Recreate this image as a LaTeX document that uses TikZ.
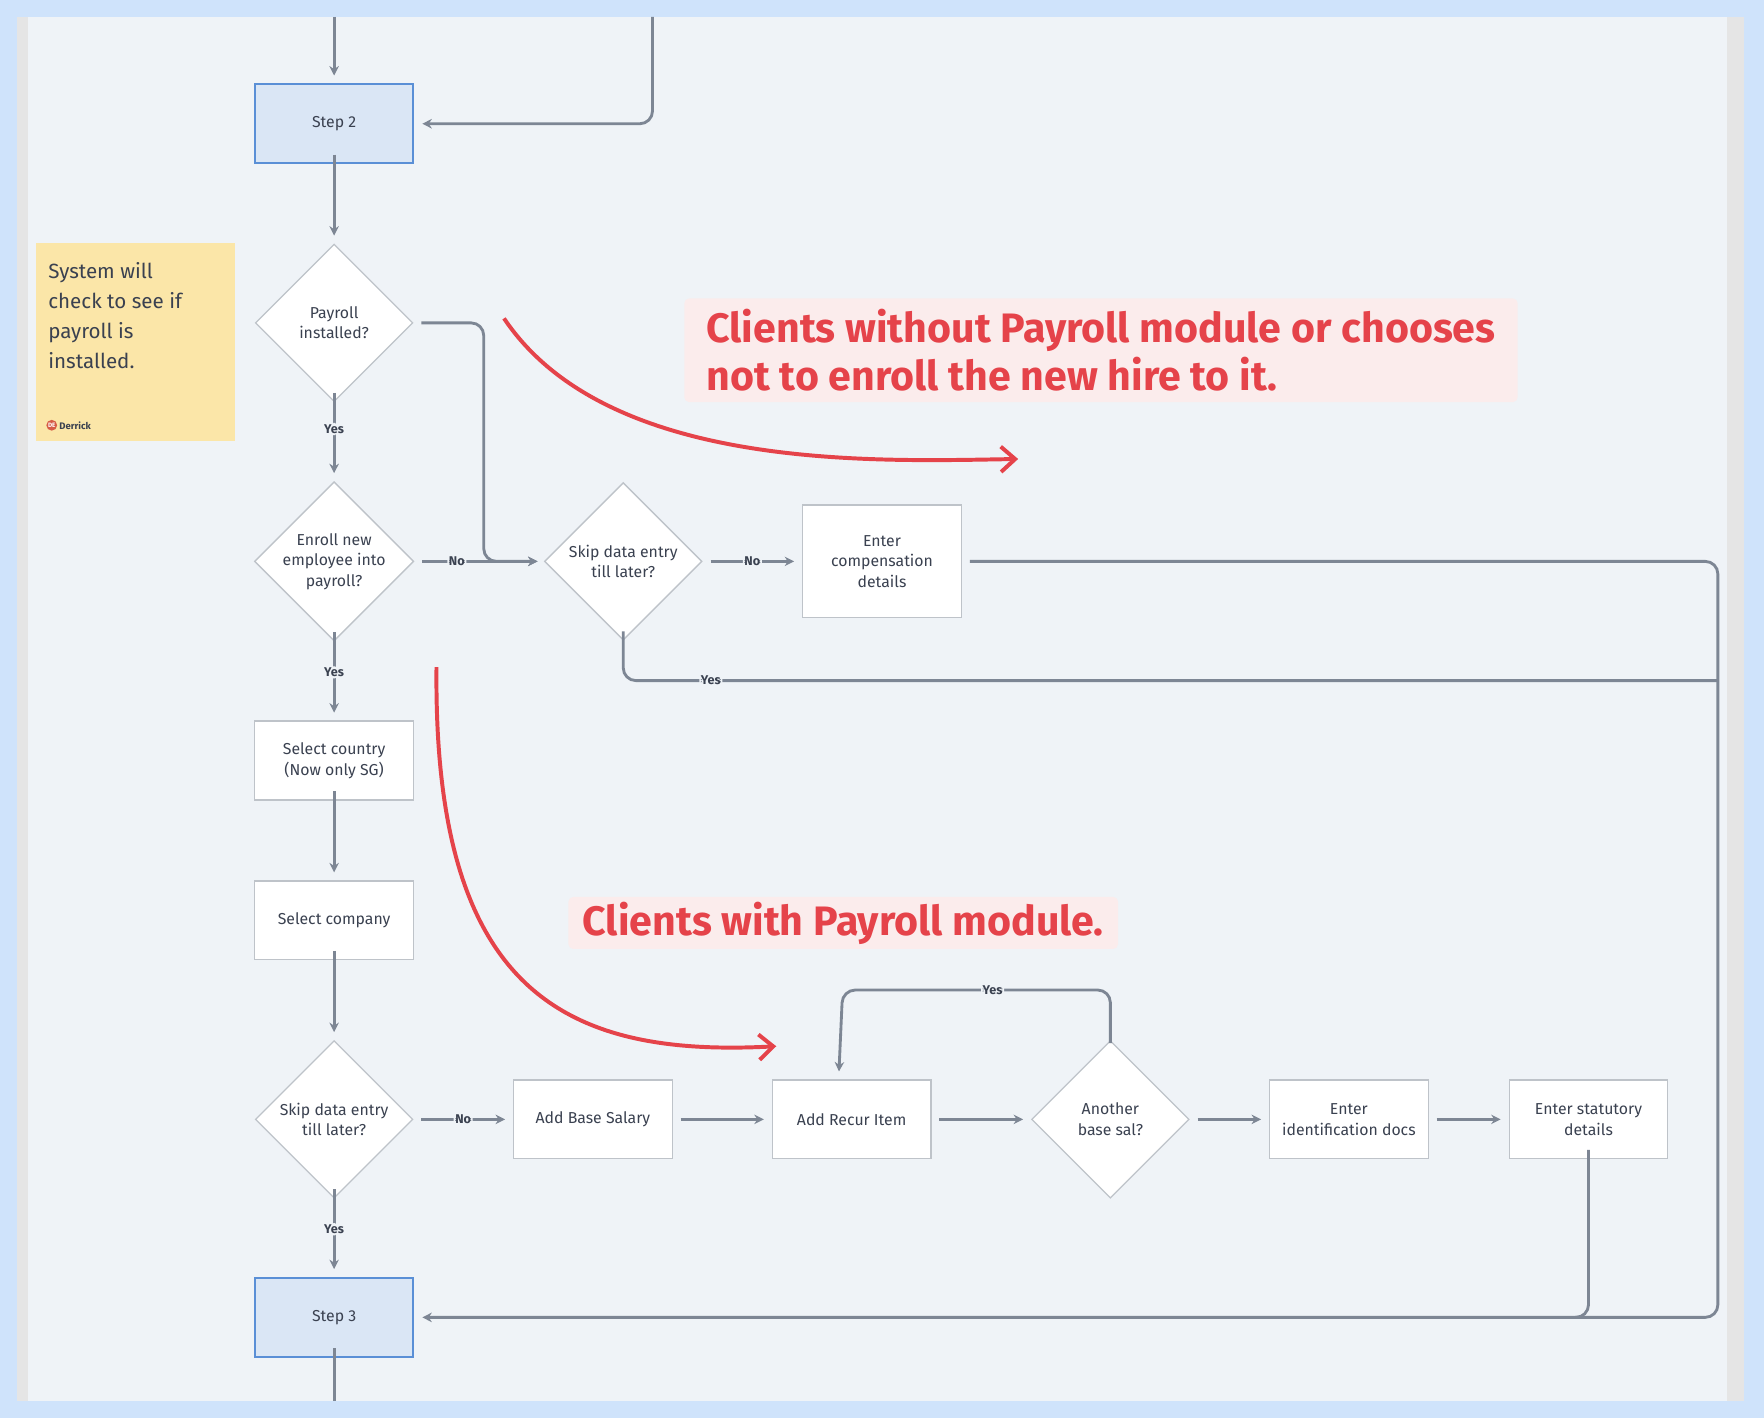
\documentclass[tikz,border=0pt]{standalone}
\usepackage{fontspec}
\setmainfont{Fira Sans}
\usetikzlibrary{shapes.geometric, positioning, arrows.meta}
\definecolor{edgegray}{HTML}{7D8694}
\definecolor{txtgray}{HTML}{3A4150}
\definecolor{stepfill}{HTML}{DAE6F5}
\definecolor{stepline}{HTML}{5A8FD6}
\definecolor{callred}{HTML}{E5434A}
\definecolor{callfill}{HTML}{FBECEC}
\definecolor{notefill}{HTML}{FBE6A8}
\definecolor{bgpanel}{HTML}{EFF3F7}
\definecolor{bgouter}{HTML}{CFE3FB}
\begin{document}
\begin{tikzpicture}[x=0.025cm, y=-0.025cm,
  box/.style={draw=edgegray!50, fill=white, line width=0.8pt, minimum width=141*0.025cm, minimum height=70*0.025cm, align=center, text=txtgray, font=\fontsize{10}{13}\selectfont, inner sep=1pt},
  stepbox/.style={box, fill=stepfill, draw=stepline, line width=1.2pt},
  dec/.style={diamond, draw=edgegray!50, fill=white, line width=0.8pt, minimum width=140*0.025cm, minimum height=140*0.025cm, inner sep=0pt, align=center, text=txtgray, font=\fontsize{10}{13}\selectfont},
  flow/.style={draw=edgegray, line width=1.8pt, rounded corners=8pt, -{Stealth[length=6pt,width=6pt]}},
  lbl/.style={fill=bgpanel, text=txtgray, font=\fontsize{8}{9}\selectfont\bfseries, inner sep=1pt},
  call/.style={fill=callfill, text=callred, font=\fontsize{26}{30}\selectfont\bfseries, align=left, inner xsep=14pt, inner ysep=7pt, rounded corners=3pt},
  curve/.style={draw=callred, line width=2.5pt, -{Straight Barb[length=9pt,width=16pt]}}
]
% background
\useasboundingbox (0,0) rectangle (1568,1260);
\fill[bgouter] (0,0) rectangle (1568,1260);
\fill[black!10] (15,15) rectangle (1550,1245);
\fill[bgpanel] (25,15) rectangle (1535,1245);

% note
\node[fill=notefill, minimum width=177*0.025cm, minimum height=176*0.025cm, anchor=north west, inner sep=0pt] (note) at (32,216) {};
\node[anchor=north west, align=left, text=txtgray, font=\fontsize{13}{19}\selectfont] (notetext) at (38,228) {System will\\check to see if\\payroll is\\installed.};
\node[circle, fill=callred!60!brown, text=white, inner sep=0.5pt, font=\fontsize{4}{4}\selectfont\bfseries] (avatar) at (46,378) {DE};
\node[right=1pt of avatar, text=txtgray, font=\fontsize{6}{7}\selectfont\bfseries, inner sep=0pt] (author) {Derrick};

% nodes
\node[stepbox] (step2) at (297,110) {Step 2};
\node[dec] (payroll) at (297,287) {Payroll\\installed?};
\node[dec] (enroll) at (297,499) {Enroll new\\employee into\\payroll?};
\node[dec] (skipA) at (554,499) {Skip data entry\\till later?};
\node[box, minimum height=100*0.025cm] (comp) at (784,499) {Enter\\compensation\\details};
\node[box] (country) at (297,676) {Select country\\(Now only SG)};
\node[box] (company) at (297,818) {Select company};
\node[dec] (skipB) at (297,995) {Skip data entry\\till later?};
\node[box] (base) at (527,995) {Add Base Salary};
\node[box] (recur) at (757,995) {Add Recur Item};
\node[dec] (another) at (987,995) {Another\\base sal?};
\node[box] (ident) at (1199,995) {Enter\\identification docs};
\node[box] (statut) at (1412,995) {Enter statutory\\details};
\node[stepbox] (step3) at (297,1171) {Step 3};

\coordinate (topA) at (297,15);
\coordinate (topB) at (580,15);
\coordinate (bottom) at (297,1245);
\coordinate (rightX) at (1527,1171);

% connectors
\draw[flow] (topA) -- ([yshift=5]step2.north);
\draw[flow] (topB) |- ([xshift=5]step2.east);
\draw[flow] ([yshift=6]step2.south) -- ([yshift=5]payroll.north);
\draw[flow] ([yshift=6]payroll.south) -- node[lbl, pos=0.45]{Yes} ([yshift=5]enroll.north);
\draw[flow] ([xshift=5]payroll.east) -| (430,499) -- ([xshift=-4]skipA.west);
\draw[flow] ([xshift=5]enroll.east) -- node[lbl, pos=0.3]{No} ([xshift=-4]skipA.west);
\draw[flow] ([xshift=5]skipA.east) -- node[lbl]{No} ([xshift=-5]comp.west);
\draw[flow] ([xshift=5]comp.east) -| (rightX) -- ([xshift=5]step3.east);
\draw[flow, -] ([yshift=6]skipA.south) |- node[lbl, pos=0.54]{Yes} (1527,605);
\draw[flow] ([yshift=6]enroll.south) -- node[lbl]{Yes} ([yshift=5]country.north);
\draw[flow] ([yshift=6]country.south) -- ([yshift=5]company.north);
\draw[flow] ([yshift=6]company.south) -- ([yshift=5]skipB.north);
\draw[flow] ([xshift=5]skipB.east) -- node[lbl]{No} ([xshift=-5]base.west);
\draw[flow] ([xshift=5]base.east) -- ([xshift=-5]recur.west);
\draw[flow] ([xshift=5]recur.east) -- ([xshift=-5]another.west);
\draw[flow] ([yshift=-2]another.north) |- node[lbl, pos=0.72]{Yes} (749,880) -- ([yshift=5,xshift=-8]recur.north);
\draw[flow] ([xshift=5]another.east) -- ([xshift=-5]ident.west);
\draw[flow] ([xshift=5]ident.east) -- ([xshift=-5]statut.west);
\draw[flow, -] ([yshift=6]statut.south) |- (1400,1171);
\draw[flow] ([yshift=6]skipB.south) -- node[lbl]{Yes} ([yshift=5]step3.north);
\draw[flow, -] ([yshift=6]step3.south) -- (bottom);

% callouts
\node[call, anchor=north west] (callA) at (608,265) {Clients without Payroll module or chooses\\not to enroll the new hire to it.};
\node[call, anchor=north west, inner ysep=3pt, inner xsep=9pt] (callB) at (505,797) {Clients with Payroll module.};
\coordinate (curveAs) at (448,283);
\coordinate (curveAe) at (905,408);
\coordinate (curveBs) at (388,593);
\coordinate (curveBe) at (690,930);
\draw[curve] (curveAs) .. controls (540,420) and (780,410) .. (curveAe);
\draw[curve] (curveBs) .. controls (385,880) and (500,940) .. (curveBe);
\end{tikzpicture}
\end{document}
